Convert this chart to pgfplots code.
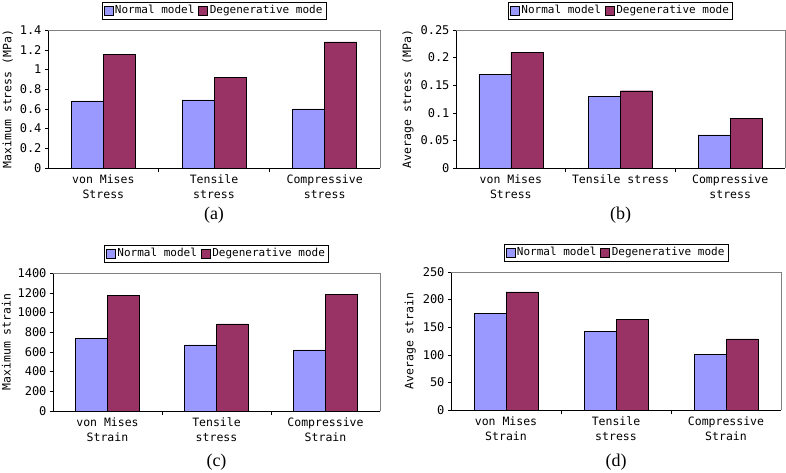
\documentclass[border=0pt]{standalone}
\usepackage{fontspec}
\setmainfont{Liberation Serif}
\setmonofont{DejaVu Sans Mono}
\usepackage{pgfplots}
\pgfplotsset{compat=1.18}
\definecolor{normc}{HTML}{9999FF}
\definecolor{degc}{HTML}{993366}
\tikzset{capt/.style={font=\fontsize{18}{20}\selectfont}}
\pgfplotsset{
  sqleg/.style={legend image code/.code={\draw[##1,draw=black] (0pt,-4.5pt) rectangle (9pt,4.5pt);}},
  mybar/.style={
    scale only axis, height=138pt, anchor=south west, clip=false,
    ybar=0pt, bar width=32pt,
    xmin=-0.5, xmax=2.5, ymin=0,
    xtick={0,1,2}, minor xtick={0.5,1.5},
    major x tick style={draw=none},
    minor x tick style={black, thin},
    tick align=outside, minor tick length=4pt, major tick length=3pt,
    axis lines*=left, axis line style={black, thin},
    ytick style={black, thin},
    xticklabel style={font=\ttfamily\fontsize{11.5}{15.5}\selectfont, align=center},
    yticklabel style={font=\ttfamily\fontsize{12}{13}\selectfont},
    /pgf/number format/assume math mode=true,
    /pgf/number format/1000 sep={},
    scaled y ticks=false,
    ylabel style={font=\ttfamily\fontsize{11.5}{13}\selectfont},
    legend style={at={(0.5,1.08)}, anchor=south, legend columns=2, draw=black,
      font=\ttfamily\fontsize{11}{12}\selectfont, inner sep=1.5pt,
      /tikz/every even column/.append style={column sep=2pt}},
  },
}
\begin{document}
\begin{tikzpicture}
\useasboundingbox (0,0) rectangle (786pt,472pt);
% (a)
\begin{axis}[mybar, at={(48pt,304pt)}, width=332pt, ymax=1.4,
  ytick={0,0.2,0.4,0.6,0.8,1,1.2,1.4},
  xticklabels={{von Mises\\Stress},{Tensile\\stress},{Compressive\\stress}},
  ylabel={Maximum stress (MPa)}]
\addplot[fill=normc, draw=black, sqleg] coordinates {(0,0.68) (1,0.69) (2,0.60)};
\addplot[fill=degc, draw=black, sqleg] coordinates {(0,1.15) (1,0.92) (2,1.28)};
\legend{Normal model, Degenerative mode}
\draw[gray] (rel axis cs:0,1) -- (rel axis cs:1,1) -- (rel axis cs:1,0);
\node[capt, yshift=-47pt] at (rel axis cs:0.5,0) {(a)};
\end{axis}
% (b)
\begin{axis}[mybar, at={(456pt,304pt)}, width=329pt, ymax=0.25,
  ytick={0,0.05,0.1,0.15,0.2,0.25},
  yticklabel style={/pgf/number format/fixed, /pgf/number format/precision=2},
  xticklabels={{von Mises\\Stress},{Tensile stress},{Compressive\\stress}},
  ylabel={Average stress (MPa)}]
\addplot[fill=normc, draw=black, sqleg] coordinates {(0,0.17) (1,0.13) (2,0.06)};
\addplot[fill=degc, draw=black, sqleg] coordinates {(0,0.21) (1,0.14) (2,0.09)};
\legend{Normal model, Degenerative mode}
\draw[gray] (rel axis cs:0,1) -- (rel axis cs:1,1) -- (rel axis cs:1,0);
\node[capt, yshift=-47pt] at (rel axis cs:0.5,0) {(b)};
\end{axis}
% (c)
\begin{axis}[mybar, at={(53pt,61pt)}, width=327pt, ymax=1400,
  ytick={0,200,400,600,800,1000,1200,1400},
  xticklabels={{von Mises\\Strain},{Tensile\\stress},{Compressive\\Strain}},
  ylabel={Maximum strain}]
\addplot[fill=normc, draw=black, sqleg] coordinates {(0,740) (1,670) (2,620)};
\addplot[fill=degc, draw=black, sqleg] coordinates {(0,1175) (1,885) (2,1185)};
\legend{Normal model, Degenerative mode}
\draw[gray] (rel axis cs:0,1) -- (rel axis cs:1,1) -- (rel axis cs:1,0);
\node[capt, yshift=-51pt] at (rel axis cs:0.5,0) {(c)};
\end{axis}
% (d)
\begin{axis}[mybar, at={(451pt,62pt)}, width=330pt, ymax=250,
  ytick={0,50,100,150,200,250},
  xticklabels={{von Mises\\Strain},{Tensile\\stress},{Compressive\\Strain}},
  ylabel={Average strain}]
\addplot[fill=normc, draw=black, sqleg] coordinates {(0,175) (1,143) (2,101)};
\addplot[fill=degc, draw=black, sqleg] coordinates {(0,214) (1,164) (2,129)};
\legend{Normal model, Degenerative mode}
\draw[gray] (rel axis cs:0,1) -- (rel axis cs:1,1) -- (rel axis cs:1,0);
\node[capt, yshift=-52pt] at (rel axis cs:0.5,0) {(d)};
\end{axis}
\end{tikzpicture}
\end{document}
